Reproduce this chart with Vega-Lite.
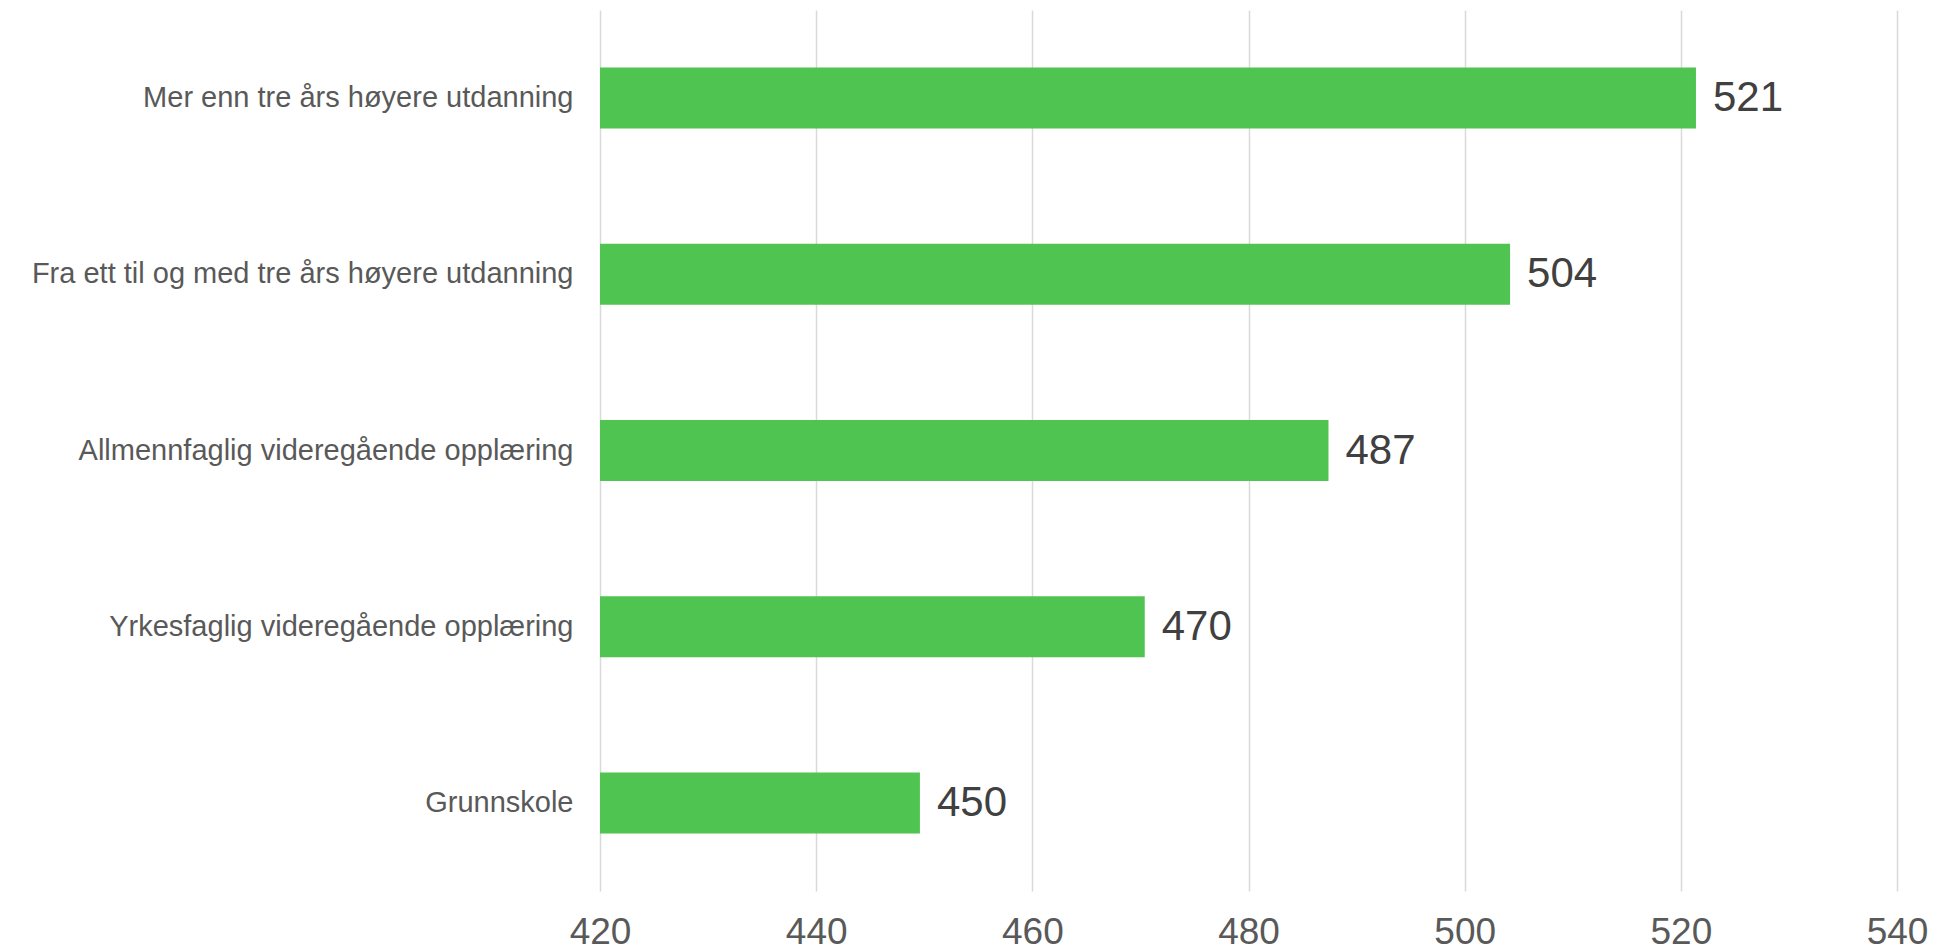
{
  "$schema": "https://vega.github.io/schema/vega-lite/v6.json",
  "autosize": "none",
  "width": 1297,
  "height": 881,
  "padding": {"left": 600, "top": 10, "right": 40, "bottom": 61},
  "background": "white",
  "config": {
    "view": {"stroke": null},
    "font": "Liberation Sans"
  },
  "data": {
    "values": [
      {"kategori": "Mer enn tre års høyere utdanning\u00a0", "verdi": 521.4},
      {"kategori": "Fra ett til og med tre års høyere utdanning\u00a0", "verdi": 504.2},
      {"kategori": "Allmennfaglig videregående opplæring", "verdi": 487.4},
      {"kategori": "Yrkesfaglig videregående opplæring", "verdi": 470.4},
      {"kategori": "Grunnskole", "verdi": 449.6}
    ]
  },
  "encoding": {
    "y": {
      "field": "kategori",
      "type": "nominal",
      "sort": null,
      "scale": {"paddingInner": 0.654, "paddingOuter": 0.327},
      "axis": {
        "title": null,
        "domain": false,
        "ticks": false,
        "grid": false,
        "labelFont": "Liberation Sans",
        "labelFontSize": 29,
        "labelColor": "#595959",
        "labelPadding": 27,
        "labelLimit": 700
      }
    },
    "x": {
      "field": "verdi",
      "type": "quantitative",
      "scale": {"domain": [420, 540], "nice": false, "zero": false, "clamp": true},
      "axis": {
        "title": null,
        "values": [420, 440, 460, 480, 500, 520, 540],
        "domain": false,
        "ticks": false,
        "grid": true,
        "gridColor": "#d9d9d9",
        "gridWidth": 1.5,
        "labelFont": "Liberation Sans",
        "labelFontSize": 37,
        "labelColor": "#595959",
        "labelPadding": 23,
        "labelFlush": false
      }
    }
  },
  "layer": [
    {
      "mark": {"type": "bar", "color": "#50C450"},
      "encoding": {"x2": {"datum": 420}}
    },
    {
      "mark": {
        "type": "text",
        "align": "left",
        "baseline": "middle",
        "dx": 17,
        "fontSize": 42,
        "font": "Liberation Sans",
        "color": "#404040"
      },
      "encoding": {
        "text": {"field": "verdi", "type": "quantitative", "format": ".0f"}
      }
    }
  ]
}
